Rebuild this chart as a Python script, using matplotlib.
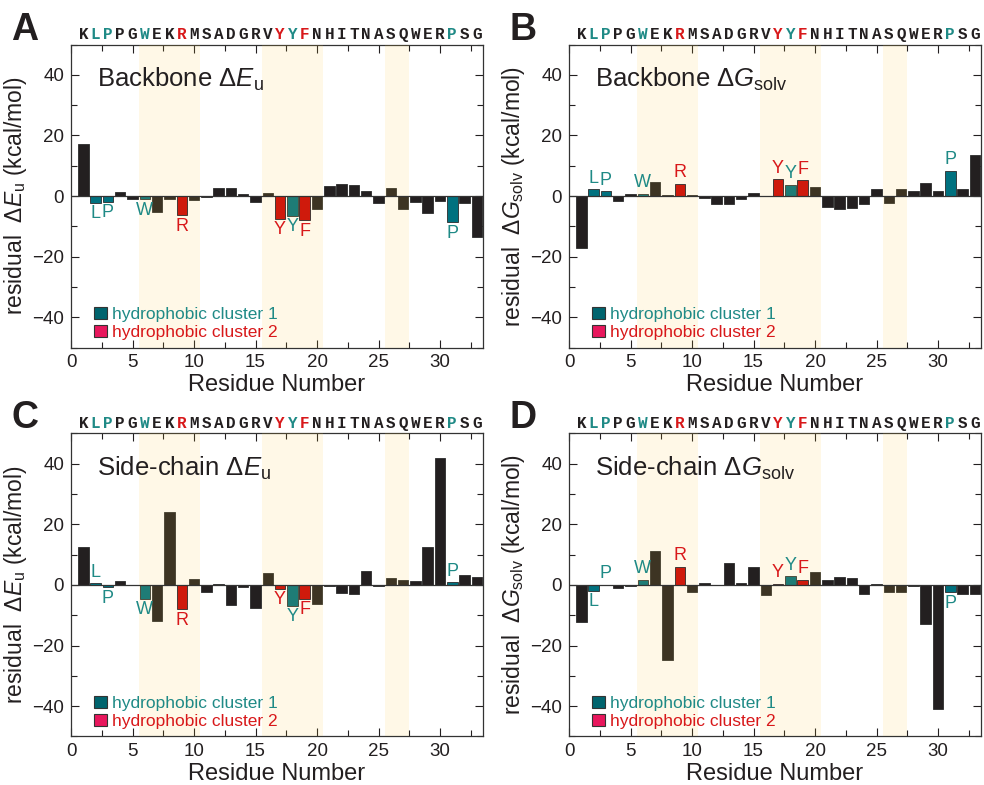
import numpy as np
from matplotlib import pyplot as plt
from matplotlib.patches import Patch
from matplotlib.ticker import MultipleLocator
import matplotlib.transforms as mtransforms

plt.rcParams['font.family'] = ['Liberation Sans', 'DejaVu Sans']
plt.rcParams['mathtext.fontset'] = 'custom'
plt.rcParams['mathtext.rm'] = 'Liberation Sans'
plt.rcParams['mathtext.it'] = 'Liberation Sans:italic'
plt.rcParams['mathtext.sf'] = 'Liberation Sans'

# peptide sequence, one letter per residue
sequence = list("KLPPGWEKRMSADGRVYYFNHITNASQWERPSG")
residues = np.arange(1, len(sequence) + 1)

cluster1 = [2, 3, 6, 18, 31]   # hydrophobic cluster 1
cluster2 = [9, 17, 19]         # hydrophobic cluster 2

# shaded residue stretches
regions = [(5.5, 10.5), (15.5, 20.5), (25.5, 27.5)]

backbone_Eu = [17.3, -2.2, -1.9, 1.3, -1.0, -1.1, -5.2, -1.1, -6.3, -1.3,
               -0.3, 2.7, 2.6, 0.7, -2.0, 0.9, -7.5, -6.5, -8.0, -4.4,
               3.4, 4.0, 3.6, 1.6, -2.4, 2.7, -4.3, -2.1, -5.6, -1.7,
               -8.7, -2.4, -13.6]
backbone_Gsolv = [-17.1, 2.2, 1.6, -1.7, 0.7, 0.8, 4.6, 0.3, 4.0, 0.3,
                  -0.6, -2.8, -2.8, -1.0, 0.9, 0.0, 5.6, 3.8, 5.2, 3.1,
                  -3.6, -4.4, -4.1, -2.7, 2.2, -2.4, 2.3, 1.8, 4.4, 1.8,
                  8.3, 2.3, 13.7]
sidechain_Eu = [12.4, 0.5, -0.8, 1.2, 0.0, -4.5, -11.8, 24.0, -8.0, 2.1,
                -2.3, 0.3, -6.6, -0.7, -7.7, 4.0, -1.3, -6.8, -4.5, -6.3,
                -0.2, -2.6, -2.9, 4.5, -0.4, 2.2, 1.8, 1.4, 12.6, 42.0,
                1.0, 3.2, 2.6]
sidechain_Gsolv = [-12.3, -1.9, 0.1, -0.9, -0.4, 1.8, 11.2, -24.7, 6.0, -2.2,
                   0.7, 0.0, 7.1, 0.5, 5.8, -3.4, 0.4, 2.9, 1.8, 4.2,
                   1.5, 2.6, 2.3, -2.9, 0.3, -2.3, -2.3, -0.4, -12.9, -40.9,
                   -2.4, -2.9, -2.9]

dark = '#231f20'
teal = '#00717f'
red = '#cf1a0c'
teal_text = '#1f8a86'
red_text = '#d8181a'


def residueColor(n):
	if n in cluster1:
		return teal
	if n in cluster2:
		return red
	return dark


def drawPanel(ax, values, title, ylabel):
	for n, v in zip(residues, values):
		c = residueColor(n)
		# red bars sit on top of the shading
		z = 3.5 if n in cluster2 else 2
		ax.bar(n, v, width=0.85, color=c, edgecolor='#2b2b2b', linewidth=0.6, zorder=z)
		if n in cluster1 or n in cluster2:
			tc = teal_text if n in cluster1 else red_text
			if v > 0:
				ax.text(n, v + 0.8, sequence[n - 1], color=tc, fontsize=13,
					ha='center', va='bottom', zorder=5)
			else:
				ax.text(n, v - 0.8, sequence[n - 1], color=tc, fontsize=13,
					ha='center', va='top', zorder=5)

	for lo, hi in regions:
		ax.axvspan(lo, hi, color='#ffcd3c', alpha=0.12, lw=0, zorder=3)

	ax.axhline(0, color='#333333', lw=0.9, zorder=4)

	ax.set_xlim(0, 33.5)
	ax.set_ylim(-50, 50)
	ax.xaxis.set_major_locator(MultipleLocator(5))
	ax.xaxis.set_minor_locator(MultipleLocator(2.5))
	ax.yaxis.set_major_locator(MultipleLocator(20))
	ax.yaxis.set_minor_locator(MultipleLocator(10))
	ax.tick_params(which='both', direction='in', top=True, right=True,
		labelsize=13.5, colors=dark, width=0.8)
	ax.tick_params(which='major', length=6, pad=5)
	ax.tick_params(which='minor', length=4)
	for s in ax.spines.values():
		s.set_linewidth(0.9)
		s.set_color('#333333')

	ax.set_xlabel('Residue Number', fontsize=17, labelpad=2, color=dark)
	ax.set_ylabel(ylabel, fontsize=16.5, labelpad=2, color=dark)
	ax.text(0.063, 0.86, title, transform=ax.transAxes, fontsize=18.5,
		color=dark, ha='left', va='baseline')

	# sequence letters along the top
	trans = mtransforms.blended_transform_factory(ax.transData, ax.transAxes)
	for n, letter in zip(residues, sequence):
		c = dark
		if n in cluster1:
			c = teal_text
		elif n in cluster2:
			c = red_text
		ax.text(n, 1.033, letter, transform=trans, ha='center', va='center',
			fontsize=11.5, fontweight='bold', family='Liberation Mono', color=c)

	handles = [Patch(facecolor='#00646e', edgecolor='#333333', lw=0.8),
		Patch(facecolor='#e8175d', edgecolor='#333333', lw=0.8)]
	ax.legend(handles, ['hydrophobic cluster 1', 'hydrophobic cluster 2'],
		loc='lower left', bbox_to_anchor=(0.03, -0.01), frameon=False,
		fontsize=12.5, handlelength=0.75, handleheight=0.75, handletextpad=0.3,
		labelspacing=0.15, labelcolor=[teal_text, red_text], borderaxespad=0.2)


fig = plt.figure(figsize=(9.84, 7.85), dpi=100)
axA = fig.add_axes([0.0722, 0.5573, 0.4187, 0.386])
axB = fig.add_axes([0.5783, 0.5573, 0.4187, 0.386])
axC = fig.add_axes([0.0722, 0.0618, 0.4187, 0.386])
axD = fig.add_axes([0.5783, 0.0618, 0.4187, 0.386])

drawPanel(axA, backbone_Eu, r'Backbone $\Delta\mathit{E}_\mathrm{u}$',
	r'residual  $\Delta\mathit{E}_\mathrm{u}$ (kcal/mol)')
drawPanel(axB, backbone_Gsolv, r'Backbone $\Delta\mathit{G}_\mathrm{solv}$',
	r'residual  $\Delta\mathit{G}_\mathrm{solv}$ (kcal/mol)')
drawPanel(axC, sidechain_Eu, r'Side-chain $\Delta\mathit{E}_\mathrm{u}$',
	r'residual  $\Delta\mathit{E}_\mathrm{u}$ (kcal/mol)')
drawPanel(axD, sidechain_Gsolv, r'Side-chain $\Delta\mathit{G}_\mathrm{solv}$',
	r'residual  $\Delta\mathit{G}_\mathrm{solv}$ (kcal/mol)')

for letter, x, y in [('A', 0.025, 0.949), ('B', 0.532, 0.949),
		('C', 0.025, 0.455), ('D', 0.532, 0.455)]:
	fig.text(x, y, letter, fontsize=27, fontweight='bold', ha='center',
		va='baseline', color=dark)

fig.savefig('out.png', dpi=100)
